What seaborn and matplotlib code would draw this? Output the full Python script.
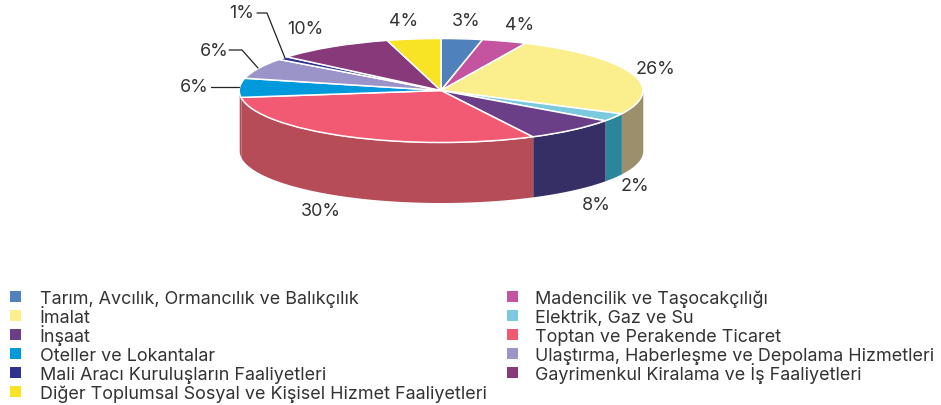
import numpy as np
import seaborn as sns
import matplotlib.pyplot as plt
from matplotlib.patches import Rectangle

W, H = 941, 406

categories = ['Tarım, Avcılık, Ormancılık ve Balıkçılık', 'Madencilik ve Taşocakçılığı', 'İmalat',
              'Elektrik, Gaz ve Su', 'İnşaat', 'Toptan ve Perakende Ticaret', 'Oteller ve Lokantalar',
              'Ulaştırma, Haberleşme ve Depolama Hizmetleri', 'Mali Aracı Kuruluşların Faaliyetleri',
              'Gayrimenkul Kiralama ve İş Faaliyetleri', 'Diğer Toplumsal Sosyal ve Kişisel Hizmet Faaliyetleri']
# slice sizes, they round to the printed labels
values = [3.3, 3.6, 25.5, 2.49, 7.6, 30.4, 5.9, 6.4, 1.0, 9.51, 4.3]
pct_labels = ['3%', '4%', '26%', '2%', '8%', '30%', '6%', '6%', '1%', '10%', '4%']
colors = ['#4f81bd', '#c4549f', '#fbee8c', '#7bc9dc', '#6b3f87', '#f15a72',
          '#0099dc', '#9b94c8', '#2e3192', '#87397a', '#f8e325']
# the left rim in the reference stays red right up to the edge
wall_colors = ['#36597f', '#86396c', '#9b906b', '#2b869c', '#362f66', '#b54c57',
               '#b54c57', '#696588', '#1f2163', '#5c2753', '#a99a19']

sns.set_theme(style='white')
plt.rcParams['font.family'] = ['Inter', 'Liberation Sans', 'DejaVu Sans']
text_color = '#333333'
fs_px = 17.95
fs = fs_px * 72 / 100

fig = plt.figure(figsize=(W / 100, H / 100), dpi=100)

# pie drawn on squashed axes so the circle turns into the ellipse
a_px, b_px, depth_px = 201.8, 52, 60
cx, cy = 441, 91.5
ax = fig.add_axes([(cx - a_px) / W, 1 - (cy + b_px + depth_px) / H, 2 * a_px / W, (2 * b_px + depth_px) / H])
ax.pie(values, colors=colors, startangle=90, counterclock=False, radius=1,
       wedgeprops={'edgecolor': 'white', 'linewidth': 1.1, 'zorder': 3})
depth = depth_px / b_px
ax.set_aspect('auto')
ax.set_xlim(-1, 1)
ax.set_ylim(-1 - depth, 1)

# side wall, only the front half of the rim shows
edges = np.cumsum([0] + values) / sum(values) * 360
for i in range(len(values)):
    lo, hi = edges[i], min(edges[i + 1], 270)
    if hi <= 90 or lo >= 270:
        continue
    t = np.radians(np.linspace(max(lo, 90), hi, 60))
    x = np.sin(t)
    y = np.cos(t)
    ax.fill_between(x, y, y - depth, color=wall_colors[i], lw=0, zorder=1)

# overlay in pixel coordinates for the labels, leader lines and key
ov = fig.add_axes([0, 0, 1, 1])
ov.set_xlim(0, W)
ov.set_ylim(H, 0)
ov.axis('off')
ov.patch.set_alpha(0)

label_pos = [(466, 22), (520, 25), (656, 69), (635, 187), (596, 206), (321, 212),
             (194, 88), (214, 51), (242, 14), (305, 30), (404, 22)]
for s, (px, py) in zip(pct_labels, label_pos):
    ov.text(px, py, s, ha='center', va='center', fontsize=fs, color=text_color)

ov.plot([257, 267, 285], [14, 14, 59], color='#222222', lw=0.9)
ov.plot([229, 242, 258], [51, 51, 69], color='#222222', lw=0.9)
ov.plot([211, 239], [88, 88], color='#222222', lw=0.9)

# key runs across then down in the data order: two columns, 19 px rows
# written out by hand because the legend box spaces rows unevenly with İ and ğ
for i, name in enumerate(categories):
    col, row = i % 2, i // 2
    y = 297.5 + 19 * row
    sx, tx = (10, 40) if col == 0 else (507, 535)
    ov.add_patch(Rectangle((sx, y - 5.5), 11, 11, facecolor=colors[i], edgecolor='none'))
    ov.text(tx, y + 6.5, name, ha='left', va='baseline', fontsize=fs, color=text_color)

fig.savefig('out.png', dpi=100)
